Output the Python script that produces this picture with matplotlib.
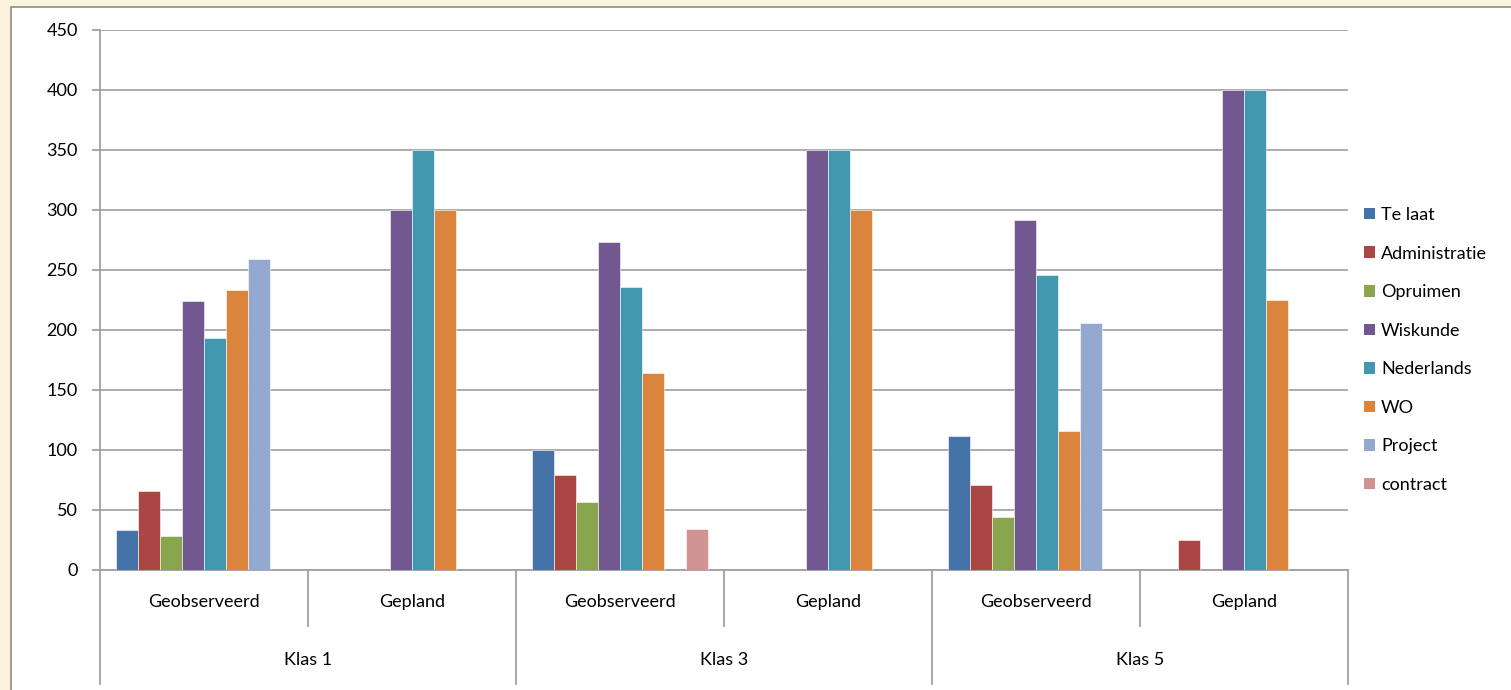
import numpy as np
import matplotlib
matplotlib.use('Agg')
import matplotlib.pyplot as plt
from matplotlib.patches import Rectangle, Patch

plt.rcParams['font.family'] = ['Lato', 'DejaVu Sans']

# categories: (subgroup, group)
sub_labels = ['Geobserveerd', 'Gepland', 'Geobserveerd', 'Gepland', 'Geobserveerd', 'Gepland']
group_labels = ['Klas 1', 'Klas 3', 'Klas 5']

series_names = ['Te laat', 'Administratie', 'Opruimen', 'Wiskunde',
                'Nederlands', 'WO', 'Project', 'contract']
nan = np.nan
te_laat = [33, nan, 100, nan, 112, nan]
administratie = [66, nan, 79, nan, 71, 25]
opruimen = [28, nan, 57, nan, 44, nan]
wiskunde = [224, 300, 273, 350, 292, 400]
nederlands = [193, 350, 236, 350, 246, 400]
wo = [233, 300, 164, 300, 116, 225]
project = [259, nan, nan, nan, 206, nan]
contract = [nan, nan, 34, nan, nan, nan]
series = [te_laat, administratie, opruimen, wiskunde, nederlands, wo, project, contract]
colors = ['#4572A7', '#AA4643', '#89A54E', '#71588F',
          '#4198AF', '#DB843D', '#93A9CF', '#D19392']

W, H = 1511, 690
fig = plt.figure(figsize=(W / 100, H / 100), dpi=100, facecolor='#FEF3DF')
fig.patches.append(Rectangle((11 / W, -0.05), 1.1, (H - 7) / H + 0.05,
                             transform=fig.transFigure, facecolor='white',
                             edgecolor='#8C8C8C', linewidth=1.2, zorder=-5))

ax = fig.add_axes([100 / W, (H - 570) / H, 1248 / W, 540 / H])
ax.set_facecolor('none')

n = len(series)
bw = 1 / (n + 1.5)
x = np.arange(len(sub_labels))
for i, (vals, c) in enumerate(zip(series, colors)):
    ax.bar(x + (i - (n - 1) / 2) * bw, vals, width=bw, color=c,
           edgecolor='white', linewidth=0.4, zorder=3)

ax.set_xlim(-0.5, len(sub_labels) - 0.5)
ax.set_ylim(0, 450)
ax.set_yticks(np.arange(0, 451, 50))
ax.yaxis.grid(True, color='#A6A6A6', linewidth=1.3, zorder=1)
ax.set_axisbelow(True)
for s in ['top', 'right']:
    ax.spines[s].set_visible(False)
for s in ['left', 'bottom']:
    ax.spines[s].set_color('#A0A0A0')
    ax.spines[s].set_linewidth(1.3)
ax.tick_params(axis='y', length=6, color='#A0A0A0', width=1.3, labelsize=13, pad=10)
ax.set_xticks([])

# hierarchical category axis
tr = ax.get_xaxis_transform()
y_short = -56 / 540
y_long = -114 / 540
for b in np.arange(-0.5, len(sub_labels), 1):
    idx = int(b + 0.5)
    y_end = y_long if idx % 2 == 0 else y_short
    ax.plot([b, b], [0, y_end], transform=tr, color='#A0A0A0', lw=1.3, clip_on=False)
for xi, lab in zip(x, sub_labels):
    ax.text(xi, -32 / 540, lab, transform=tr, ha='center', va='center', fontsize=13)
for gi, lab in enumerate(group_labels):
    ax.text(2 * gi + 0.5, -90 / 540, lab, transform=tr, ha='center', va='center', fontsize=13)

handles = [Patch(facecolor=c, edgecolor='none') for c in colors]
fig.legend(handles, series_names, loc='center left',
           bbox_to_anchor=(1364 / W, (H - 350) / H), frameon=False,
           fontsize=13, handlelength=0.6, handleheight=0.6,
           handletextpad=0.35, labelspacing=1.25, borderpad=0, borderaxespad=0)

fig.savefig('out.png', dpi=100, facecolor=fig.get_facecolor())
